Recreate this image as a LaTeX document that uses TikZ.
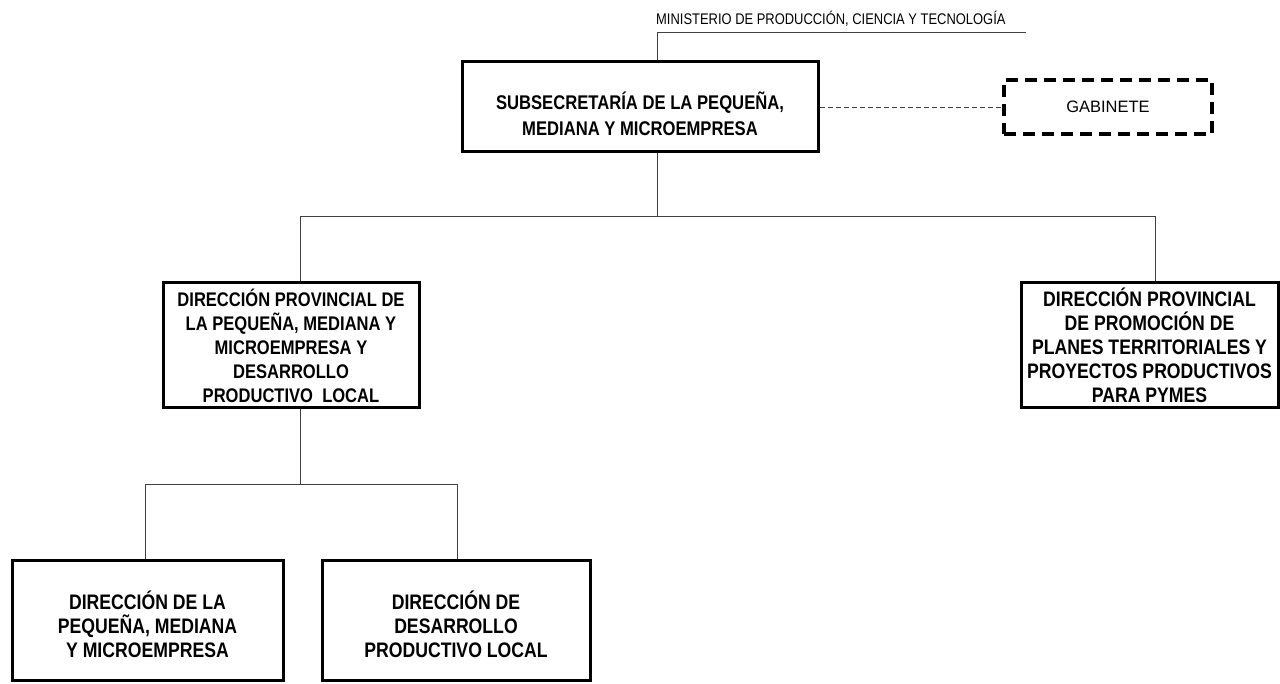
\documentclass[tikz,border=0pt]{standalone}
\usepackage{fontspec}
\setmainfont{Liberation Sans}[FakeStretch=0.84]
\newfontfamily\ancholetra{Liberation Sans}
\begin{document}
\begin{tikzpicture}[x=1pt, y=-1pt,
        every node/.style = {align=center, inner sep=0pt},
        unidad/.style = {draw, line width=3pt, font=\bfseries\fontsize{21}{24}\selectfont},
        cabeza/.style = {draw, line width=3pt, font=\bfseries\fontsize{19.8}{26}\selectfont},
        asesor/.style = {draw, line width=3.2pt, dash pattern=on 12pt off 7pt, font=\ancholetra\fontsize{16.5}{18}\selectfont},
        linea/.style = {draw=black!75, line width=0.9pt}]
        \useasboundingbox (0,0) rectangle (1280,684);
        % nodos
        \node[font=\fontsize{15.4}{17}\selectfont, anchor=base west] (min) at (656,25) {MINISTERIO DE PRODUCCIÓN, CIENCIA Y TECNOLOGÍA};
        \coordinate (minL) at (657,32);
        \coordinate (minR) at (1026,32);
        \node[cabeza, minimum width=356, minimum height=90, text height=56.5pt] (sub) at (640,107) {SUBSECRETARÍA DE LA PEQUEÑA,\\MEDIANA Y MICROEMPRESA};
        \node[asesor, minimum width=208, minimum height=54] (gab) at (1108,107) {GABINETE};
        \node[unidad, minimum width=256, minimum height=125, font=\bfseries\fontsize{19.7}{24}\selectfont] (dpl) at (291,345.5) {DIRECCIÓN PROVINCIAL DE\\LA PEQUEÑA, MEDIANA Y\\MICROEMPRESA Y\\DESARROLLO\\PRODUCTIVO\ \ LOCAL};
        \node[unidad, minimum width=257, minimum height=125] (dpp) at (1149.5,345.5) {DIRECCIÓN PROVINCIAL\\DE PROMOCIÓN DE\\PLANES TERRITORIALES Y\\PROYECTOS PRODUCTIVOS\\PARA PYMES};
        \node[unidad, minimum width=271, minimum height=120, text height=75.5pt] (dpm) at (147.5,620) {DIRECCIÓN DE LA\\PEQUEÑA, MEDIANA\\Y MICROEMPRESA};
        \node[unidad, minimum width=268, minimum height=120, text height=75.5pt] (ddl) at (456,620) {DIRECCIÓN DE\\DESARROLLO\\PRODUCTIVO LOCAL};
        % lineas
        \draw[linea] (minR) -- (minL) -- ([xshift=17pt]sub.north);
        \draw[linea, dash pattern=on 5pt off 3pt] (sub.east) -- (gab.west);
        \draw[linea] ([xshift=17pt]sub.south) -- ++(0,63) coordinate (bus1);
        \draw[linea] (bus1) -| ([xshift=9pt]dpl.north);
        \draw[linea] (bus1) -| ([xshift=5.5pt]dpp.north);
        \draw[linea] ([xshift=9pt]dpl.south) -- ++(0,75) coordinate (bus2);
        \draw[linea] (bus2) -| ([xshift=-2.5pt]dpm.north);
        \draw[linea] (bus2) -| ([xshift=1pt]ddl.north);
\end{tikzpicture}
\end{document}
